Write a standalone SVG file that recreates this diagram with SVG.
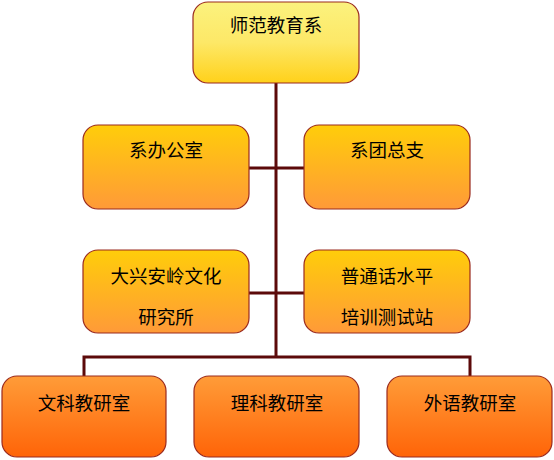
<svg xmlns="http://www.w3.org/2000/svg" width="554" height="460" viewBox="0 0 554 460">
<style>
.box{stroke:#9a2a1e;stroke-width:1.2}
.t{font-family:"Noto Sans CJK SC","Noto Sans",sans-serif;font-size:18.5px;fill:#000;text-anchor:middle}
.c{stroke:#5c0a0a;stroke-width:3;fill:none}
</style>
<defs>
<linearGradient id="g1" x1="0" y1="0" x2="0" y2="1"><stop offset="0" stop-color="#fbf27e"/><stop offset="0.5" stop-color="#fde867"/><stop offset="1" stop-color="#ffd11a"/></linearGradient>
<linearGradient id="g2" x1="0" y1="0" x2="0" y2="1"><stop offset="0" stop-color="#ffcd0a"/><stop offset="1" stop-color="#ff9a38"/></linearGradient>
<linearGradient id="g3" x1="0" y1="0" x2="0" y2="1"><stop offset="0" stop-color="#ff9c38"/><stop offset="1" stop-color="#ff6408"/></linearGradient>
</defs>
<g id="connectors">
<path class="c" d="M276,83 V357"/>
<path class="c" d="M249,168 H304"/>
<path class="c" d="M249,293 H304"/>
<path class="c" d="M84,377 V357 H470 V377"/>
</g>
<g id="n1"><rect class="box" x="193" y="2" width="166" height="81" rx="15" fill="url(#g1)"/><text class="t" x="276" y="32">师范教育系</text></g>
<g id="n2"><rect class="box" x="83" y="125" width="166" height="84" rx="15" fill="url(#g2)"/><text class="t" x="166" y="157">系办公室</text></g>
<g id="n3"><rect class="box" x="304" y="125" width="166" height="84" rx="15" fill="url(#g2)"/><text class="t" x="387" y="157">系团总支</text></g>
<g id="n4"><rect class="box" x="83" y="250" width="166" height="83" rx="15" fill="url(#g2)"/><text class="t" x="166" y="283">大兴安岭文化</text><text class="t" x="166" y="324">研究所</text></g>
<g id="n5"><rect class="box" x="304" y="250" width="166" height="83" rx="15" fill="url(#g2)"/><text class="t" x="387" y="283">普通话水平</text><text class="t" x="387" y="324">培训测试站</text></g>
<g id="n6"><rect class="box" x="2" y="376" width="164" height="81" rx="15" fill="url(#g3)"/><text class="t" x="84" y="410">文科教研室</text></g>
<g id="n7"><rect class="box" x="194" y="376" width="165" height="81" rx="15" fill="url(#g3)"/><text class="t" x="277" y="410">理科教研室</text></g>
<g id="n8"><rect class="box" x="387" y="376" width="165" height="81" rx="15" fill="url(#g3)"/><text class="t" x="470" y="410">外语教研室</text></g>
</svg>
